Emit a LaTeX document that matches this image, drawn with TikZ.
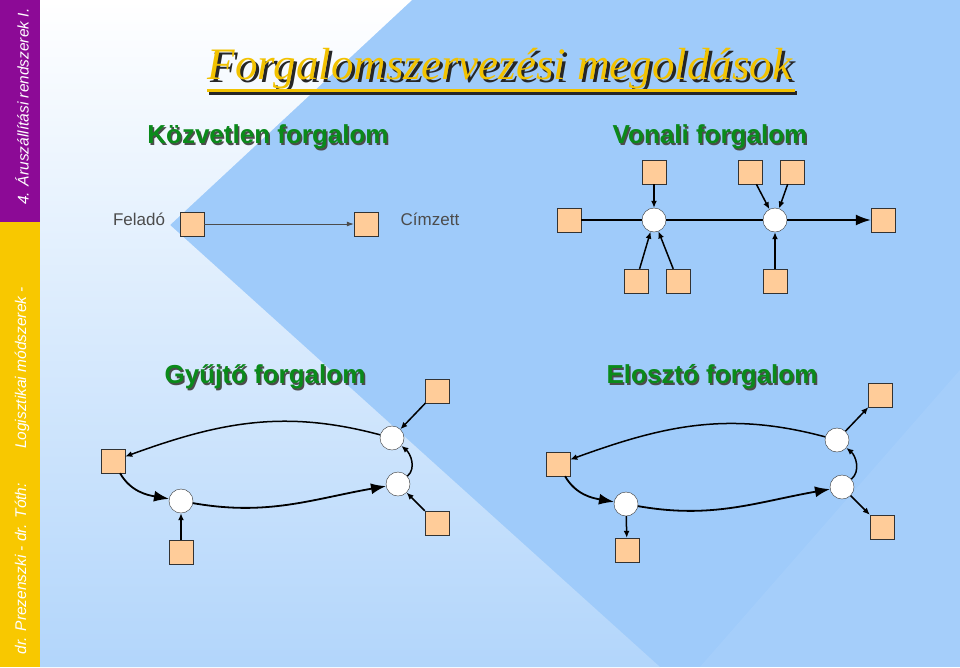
\documentclass[tikz,border=0pt]{standalone}
\usepackage{fontspec}
\setmainfont{Liberation Serif}
\setsansfont{Liberation Sans}
\usetikzlibrary{arrows.meta}

\definecolor{bgblue}{HTML}{9FCBFA}
\definecolor{boxfill}{HTML}{FFCC99}
\definecolor{titleyellow}{HTML}{F2C200}
\definecolor{subgreen}{HTML}{0A8A1A}
\definecolor{stripviolet}{HTML}{8C0A96}
\definecolor{stripyellow}{HTML}{F8C800}

\tikzset{
	site/.style={draw=black!80, fill=boxfill, minimum size=24pt, inner sep=0pt},
	hub/.style={circle, draw=black!80, fill=white, minimum size=24pt, inner sep=0pt},
	flow/.style={-{Latex[length=7pt,width=6pt]}, line width=1.5pt},
	mainflow/.style={-{Latex[length=15pt,width=11pt]}, line width=1.8pt},
	heading/.style={font=\sffamily\bfseries\fontsize{26}{30}\selectfont, text=subgreen},
	side/.style={font=\sffamily\itshape\fontsize{15.5}{18}\selectfont, text=white, rotate=90}
}

\begin{document}
\begin{tikzpicture}[x=1pt, y=-1pt]
	
	% background
	\useasboundingbox (0,0) rectangle (960,667);
	\fill[bgblue] (0,0) rectangle (960,667);
	\shade[top color=white, bottom color=bgblue!80] (40,0) -- (412,0) -- (170,225) -- (660,667) -- (40,667) -- cycle;
	\fill[white, opacity=0.07] (960,370) -- (960,667) -- (700,667) -- cycle;
	
	% side strip
	\fill[stripviolet] (0,0) rectangle (40,222);
	\fill[stripyellow] (0,222) rectangle (40,667);
	\node[side, anchor=east] (sidetop) at (22,5) {4. Áruszállítási rendszerek I.};
	\node[side, anchor=west] (sidebot) at (22,658) {dr. Prezenszki - dr. Tóth:\hspace{2.2em}Logisztikai módszerek -};
	
	% title
	\node[text=black!85, font=\fontsize{45}{50}\selectfont\itshape] (titleshadow) at (503,72) {Forgalomszervezési megoldások};
	\node[text=titleyellow, font=\fontsize{45}{50}\selectfont\itshape] (title) at (500,69) {Forgalomszervezési megoldások};
	\fill[black!85] (209,91) rectangle (797,95);
	\fill[titleyellow] (207,89) rectangle (795,92);
	
	% headings
	\foreach \x/\y/\t in {268/137/Közvetlen forgalom, 710/137/Vonali forgalom, 265/377/Gyűjtő forgalom, 712/377/Elosztó forgalom} {
		\node[heading, text=black!70] at (\x+1.5,\y+1.5) {\t};
		\node[heading] at (\x,\y) {\t};
	}
	
	% direct
	\node[font=\sffamily\fontsize{17}{19}\selectfont, text=black!70] (felado) at (139,219) {Feladó};
	\node[font=\sffamily\fontsize{17}{19}\selectfont, text=black!70] (cimzett) at (430,219) {Címzett};
	\node[site] (d1) at (192,224) {};
	\node[site] (d2) at (366,224) {};
	\draw[-{Latex[length=7pt,width=5pt]}, black!70, line width=0.8pt] (d1) -- (d2);
	
	% line
	\node[site] (v0) at (569,220) {};
	\node[hub] (va) at (654,220) {};
	\node[hub] (vb) at (775,220) {};
	\node[site] (v9) at (883,220) {};
	\node[site] (va1) at (654,172) {};
	\node[site] (va2) at (636,281) {};
	\node[site] (va3) at (678,281) {};
	\node[site] (vb1) at (750,172) {};
	\node[site] (vb2) at (792,172) {};
	\node[site] (vb3) at (775,281) {};
	\draw[line width=1.5pt] (v0) -- (va) -- (vb);
	\draw[mainflow] (vb) -- (v9);
	\foreach \s/\t in {va1/va, va2/va, va3/va, vb1/vb, vb2/vb, vb3/vb}
		\draw[flow] (\s) -- (\t);
	
	% collecting
	\node[site] (g0) at (113,461) {};
	\node[hub] (ga) at (181,501) {};
	\node[hub] (gb) at (398,484) {};
	\node[hub] (gc) at (392,438) {};
	\node[site] (ga1) at (181,552) {};
	\node[site] (gb1) at (437,523) {};
	\node[site] (gc1) at (437,391) {};
	\draw[flow] (gc) to[out=165, in=20] (g0);
	\draw[mainflow] (g0) to[out=-60, in=170] (ga);
	\draw[mainflow] (ga) to[out=-10, in=190] (gb);
	\draw[flow] (gb) to[out=40, in=-40] (gc);
	\foreach \s/\t in {ga1/ga, gb1/gb, gc1/gc}
		\draw[flow] (\s) -- (\t);
	
	% distributing
	\node[site] (e0) at (558,464) {};
	\node[hub] (ea) at (626,504) {};
	\node[hub] (eb) at (842,487) {};
	\node[hub] (ec) at (837,440) {};
	\node[site] (ea1) at (627,550) {};
	\node[site] (eb1) at (882,527) {};
	\node[site] (ec1) at (880,395) {};
	\draw[flow] (ec) to[out=165, in=20] (e0);
	\draw[mainflow] (e0) to[out=-60, in=170] (ea);
	\draw[mainflow] (ea) to[out=-10, in=190] (eb);
	\draw[flow] (eb) to[out=40, in=-40] (ec);
	\foreach \s/\t in {ea/ea1, eb/eb1, ec/ec1}
		\draw[flow] (\s) -- (\t);
	
\end{tikzpicture}
\end{document}
